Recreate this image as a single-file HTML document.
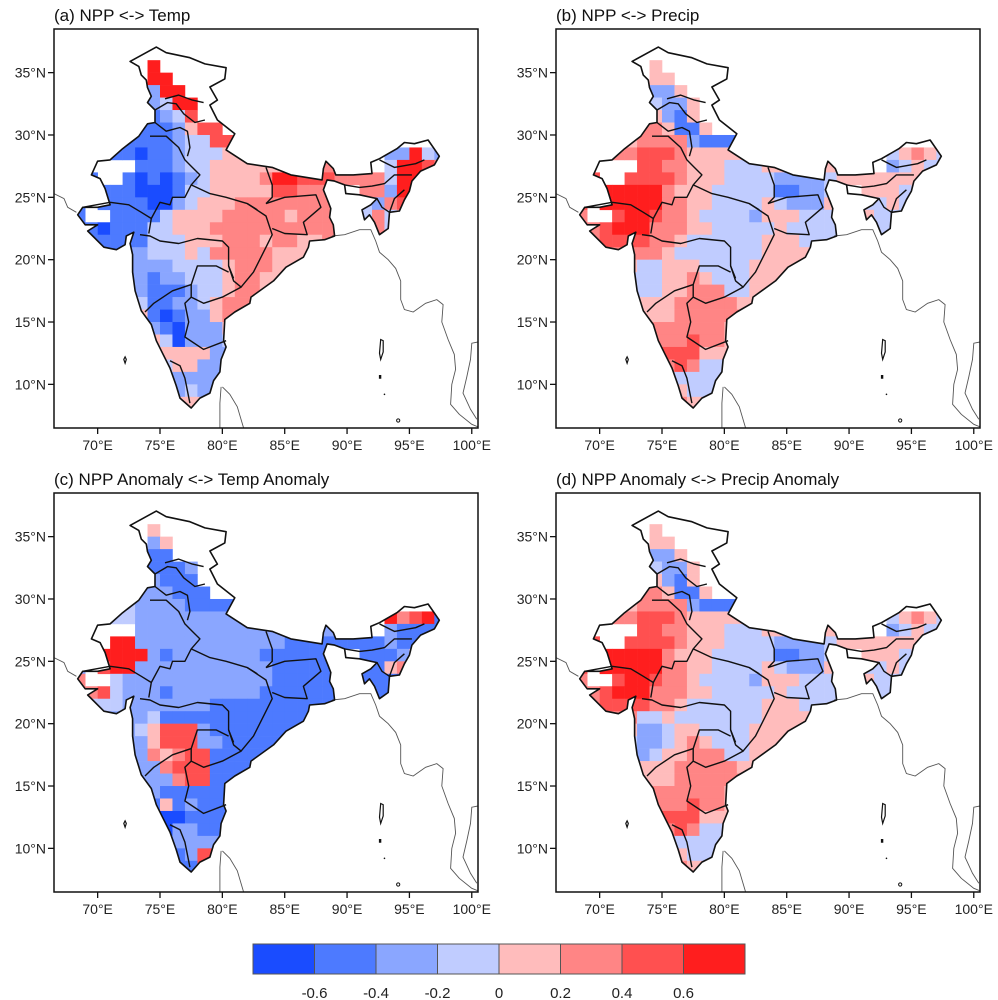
<!DOCTYPE html>
<html><head><meta charset="utf-8">
<style>
html,body{margin:0;padding:0;background:#fff;}
svg{display:block;font-family:"Liberation Sans",sans-serif;}
</style></head>
<body>
<svg id="fig" width="998" height="1000" viewBox="0 0 998 1000" xmlns="http://www.w3.org/2000/svg"></svg>
<script>
// ---- data ----
const classColors = ["#1a4cff","#4d7aff","#8aa6ff","#c0ccff","#ffbcbc","#ff8585","#ff5050","#ff1e1e"];
const colorbarLabels = ["-0.6","-0.4","-0.2","0","0.2","0.4","0.6"];
const lonTicks = [70,75,80,85,90,95,100];
const latTicks = [35,30,25,20,15,10];
const panelTitles = ["(a) NPP <-> Temp","(b) NPP <-> Precip","(c) NPP Anomaly <-> Temp Anomaly","(d) NPP Anomaly <-> Precip Anomaly"];
const gridLon0 = 68; const gridLatTop = 37;
// rows: lat bands from 37 downward (1 deg each); groups of lon 68-72|73-77|78-82|83-87|88-92|93-97
const gridA = [
"..... ..... ..... ..... ..... .....",
"..... .7... ..... ..... ..... .....",
"..... .77.. ..... ..... ..... .....",
"..... .277. ..... ..... ..... .....",
"..... .2377 ..... ..... ..... .....",
"..... 11236 ..... ..... ..... .....",
"..... 11124 66... ..... ..... .....",
"...11 11123 3665. ..... ..... .....",
"...11 01123 33444 4.... ..... 22732",
"1.... 11123 34444 44455 5.3.. 37765",
"11..1 01012 34444 57766 65555 37766",
"11111 00013 34444 46655 5..55 27711",
"1.111 10023 44455 55555 5..32 5611.",
"1..11 11344 44555 55455 5..35 34...",
"11011 13344 45555 55555 55.45 3....",
"11111 13334 44555 45544 5.... .....",
"11112 23334 35555 54444 ..... .....",
"11112 22233 33455 54444 ..... .....",
"22222 21223 33455 44444 ..... .....",
"33332 21112 33455 4.... ..... .....",
"33333 31122 34555 ..... ..... .....",
"33333 41012 24554 ..... ..... .....",
"44444 42102 22454 ..... ..... .....",
"44444 44302 22344 ..... ..... .....",
"44444 44444 42222 ..... ..... .....",
"44444 43344 22222 ..... ..... .....",
"44444 44322 22222 ..... ..... .....",
"44444 44423 22222 ..... ..... .....",
"44444 44444 44444 ..... ..... ....."];
const gridB = [
"..... ..... ..... ..... ..... .....",
"..... .4... ..... ..... ..... .....",
"..... .44.. ..... ..... ..... .....",
"..... .224. ..... ..... ..... .....",
"..... .3224 ..... ..... ..... .....",
"..... 54214 ..... ..... ..... .....",
"..... 55411 4.... ..... ..... .....",
"...44 55552 1114. ..... ..... .....",
"..555 66654 44444 4.... ..... 34543",
"5.... 66554 44333 44333 4.3.. 23433",
"56..6 66654 44333 32222 34444 44424",
"67777 77544 43333 31122 3..44 43434",
"6.777 77554 43333 43222 4..33 4333.",
"5..67 76554 33332 44433 3..43 33...",
"55677 75554 43333 34333 33.33 3....",
"55666 65543 33333 44433 3.... .....",
"44555 55433 33333 44444 ..... .....",
"44444 33444 33334 44444 ..... .....",
"33333 33445 43334 44444 ..... .....",
"33333 33445 55334 4.... ..... .....",
"44444 44455 55544 ..... ..... .....",
"44444 44455 55552 ..... ..... .....",
"44444 45555 55443 ..... ..... .....",
"55555 55556 55444 ..... ..... .....",
"55555 55666 44444 ..... ..... .....",
"55555 55565 33333 ..... ..... .....",
"55555 54433 33333 ..... ..... .....",
"55555 55443 33333 ..... ..... .....",
"55555 55554 44444 ..... ..... ....."];
const gridC = [
"..... ..... ..... ..... ..... .....",
"..... .4... ..... ..... ..... .....",
"..... .24.. ..... ..... ..... .....",
"..... .11.. ..... ..... ..... .....",
"..... .1112 ..... ..... ..... .....",
"..... 22111 ..... ..... ..... .....",
"..... 22211 1.... ..... ..... .....",
"...33 22221 1112. ..... ..... .....",
"..333 22222 22222 2.... ..... 75671",
"..... 22222 22222 22222 2.6.. 21111",
"3..77 22222 22222 22111 11111 21111",
"3.777 72122 22222 11111 1..11 12411",
"2.677 22222 22222 21111 1..11 4511.",
"5..32 22222 22222 21111 1..11 11...",
"55632 22122 22222 11111 11.11 1....",
"23332 22222 21111 11111 1.... .....",
"22222 23111 11111 11111 ..... .....",
"22222 34666 21111 11111 ..... .....",
"22222 24666 22111 11111 ..... .....",
"11111 25456 61111 1.... ..... .....",
"11111 22566 61111 ..... ..... .....",
"11111 22256 61111 ..... ..... .....",
"11111 22111 11111 ..... ..... .....",
"11111 11412 11111 ..... ..... .....",
"11111 10001 11111 ..... ..... .....",
"11111 10022 11111 ..... ..... .....",
"11111 12222 22222 ..... ..... .....",
"11111 11112 66222 ..... ..... .....",
"11111 11111 61111 ..... ..... ....."];
const gridD = [
"..... ..... ..... ..... ..... .....",
"..... .4... ..... ..... ..... .....",
"..... .44.. ..... ..... ..... .....",
"..... .224. ..... ..... ..... .....",
"..... .3224 ..... ..... ..... .....",
"..... 54214 ..... ..... ..... .....",
"..... 55411 4.... ..... ..... .....",
"...44 55552 1114. ..... ..... .....",
"..555 66654 44444 4.... ..... 34543",
"5.... 66554 44333 44333 4.3.. 23433",
"56..6 66654 44333 32222 34444 44424",
"67777 77544 43333 31122 3..44 43434",
"6.777 77554 43333 43222 4..33 4333.",
"5..67 76554 33332 44433 3..43 33...",
"55677 75554 43333 34333 33.33 3....",
"55666 65543 33333 44433 3.... .....",
"44555 33433 33333 44444 ..... .....",
"44444 22344 33334 44444 ..... .....",
"33333 22345 43334 44444 ..... .....",
"33333 23445 55334 4.... ..... .....",
"44444 44455 55544 ..... ..... .....",
"44444 44455 55552 ..... ..... .....",
"44444 45555 55443 ..... ..... .....",
"55555 55556 55444 ..... ..... .....",
"55555 55666 44444 ..... ..... .....",
"55555 55565 33333 ..... ..... .....",
"55555 54433 33333 ..... ..... .....",
"55555 55443 33333 ..... ..... .....",
"55555 55554 44444 ..... ..... ....."];
const grids = [gridA, gridB, gridC, gridD];

// ---- geometry ----
const NS = "http://www.w3.org/2000/svg";
const svg = document.getElementById("fig");
const panelOrigins = [[0,0],[502,0],[0,464],[502,464]];
const FX0 = 54, FY0 = 29, FW = 424, FH = 399;
const LON_MIN = 66.5, LON_MAX = 100.5, LAT_MIN = 6.5, LAT_MAX = 38.5;
function xScale(lon){ return FX0 + (lon - LON_MIN) / (LON_MAX - LON_MIN) * FW; }
function yScale(lat){ return FY0 + (LAT_MAX - lat) / (LAT_MAX - LAT_MIN) * FH; }
function el(tag, attrs, parent){
  const e = document.createElementNS(NS, tag);
  for (const k in attrs) e.setAttribute(k, attrs[k]);
  if (parent) parent.appendChild(e);
  return e;
}
function pts(list){ return list.map(p => xScale(p[0]).toFixed(1) + "," + yScale(p[1]).toFixed(1)).join(" "); }

const india = [[72.6,35.9],[74.7,37.05],[75.5,36.6],[77.4,36.2],[78.6,35.7],[80.3,35.4],[80.2,34.5],[79,33.85],[79.6,32.8],[79,32.4],[79.6,31.2],[81,30.1],
[80.3,28.8],[82,27.7],[84,27.4],[85.5,26.8],[88,26.4],[88.1,27.3],[88.3,27.9],[88.9,27.3],[89.1,26.8],[90.5,26.8],[92,26.9],[91.9,27.8],[92.6,28.1],[94,28.9],[94.6,29.4],[95.4,29.3],[96.5,29.6],[97.4,28.3],[97,27.6],[95.9,27.1],[95.2,26.3],[95,25.5],[94.6,24.8],[94.2,23.9],[93.4,23.8],[93.3,22.5],[92.6,22.0],[92.2,23.0],[91.8,23.6],[91.4,23.2],[91.2,24.0],[91.9,24.4],[92.4,24.9],[91,25.2],[89.9,25.3],[89.8,26.0],[89.0,26.3],[88.4,26.4],[88.1,25.6],[88.5,24.6],[88.7,24.1],[88.6,23.4],[88.9,22.8],[89.0,21.9],[88.2,21.6],[87.0,21.5],[86.9,21.0],[86.5,20.2],[85.1,19.4],[84.1,18.3],[82.3,17.0],[82.2,16.5],[81.0,15.8],[80.2,15.2],[80.1,13.5],[80.3,13.0],[79.9,12.0],[79.8,11.0],[79.3,10.3],[79.0,9.3],[78.2,8.9],[77.5,8.1],[76.6,8.9],[76.3,9.9],[75.8,11.3],[75.2,12.5],[74.7,13.5],[74.3,14.8],[73.5,15.9],[73.0,17.5],[72.8,19.0],[72.8,20.4],[72.6,21.3],[72.9,22.2],[72.3,21.9],[72.2,21.2],[71.5,20.8],[70.5,21.0],[69.2,22.3],[70.0,22.8],[69.0,22.8],[68.4,23.6],[68.8,24.2],[70.0,24.2],[71.0,24.4],[70.6,25.7],[70.2,26.5],[69.5,26.8],[70.0,27.9],[71.0,28.0],[72.0,28.9],[73.3,29.9],[74.0,30.9],[74.6,31.0],[74.6,32.0],[74.0,32.6],[74.3,33.1],[74.0,33.8],[73.9,34.4],[73.5,34.8],[73.3,35.5]];
const stateLines = [
[[68.8,24.2],[71,24.6],[72.5,24.4],[73.5,23.8],[74.3,23.3],[74.1,22.1]],
[[74.3,23.3],[75,24.6],[75.8,24.4],[76,25],[77,25],[77.5,26],[78.2,26.8],[77.5,27.5],[77,28],[76.5,29],[75.5,29.9],[74.2,29.9]],
[[74.6,31.0],[75.5,30.3],[76.6,30.6],[77.2,30.3],[77.4,29.0],[77.2,28.3]],
[[74.6,32.0],[75.6,32.6],[76.3,32.5],[76.9,31.7],[77.8,31.0],[78.6,31.2]],
[[75.4,32.9],[76.5,33.2],[77.6,32.8],[78.5,32.6]],
[[73.4,22.0],[74.2,21.9],[75,21.5],[76.5,21.3],[78,21.7],[80,21.5],[80.5,21],[80.5,19.5],[80.9,18.5]],
[[77.5,26],[79,25.3],[80.3,25],[82,24.5],[82.8,24]],
[[83.5,27.4],[84,26],[84,25],[83.5,24.5]],
[[82,24.5],[83.5,23.5],[84,22],[83.5,21],[82.5,19],[81.5,17.8],[80.9,18.3],[80.5,19.5]],
[[83.5,24.5],[85,25],[87.5,25.2],[87.9,24.2],[86.5,23],[86.8,22],[85,22.1],[84,22.5]],
[[73.8,15.8],[74.5,16.5],[76,17.5],[77.5,18],[78,19.5],[79.5,19.5],[80.5,19]],
[[77.5,18],[77.5,17],[78.5,16.5],[80,17],[81.5,17.8]],
[[77.5,17],[77,16.5],[77.3,15],[77,13.8],[78.5,12.8],[80.3,13.5]],
[[75.8,11.9],[76.6,11.5],[77,10.5],[77.2,9.5],[77.4,8.5]],
[[89.8,26.0],[91,25.8],[92,25.9],[93,26.1],[93.8,26.8],[95.2,26.8]],
[[92.6,28.0],[93.8,27.4],[95.5,27.7],[96.2,28.0]],
[[93.4,23.8],[93.8,24.9],[94.6,25.6]],
[[92.4,24.9],[92.8,24.2],[93.4,23.8]]
];
const coastLines = [
[[66.5,25.3],[67.3,24.9],[67.6,24.2],[68.3,23.8]],
[[88.8,21.9],[89.8,22.0],[91.0,22.4],[91.9,22.4],[92.3,21.5],[92.6,20.6],[93.3,20.0],[93.9,19.3],[94.3,18.3],[94.3,16.8],[94.6,16.0],[95.3,15.8],[96.3,16.5],[97.2,16.8],[97.7,16.4],[97.6,15.0],[98.1,13.6],[98.6,12.4],[98.7,11.2],[98.4,10.0],[98.3,8.4],[99.0,7.6],[100.0,6.8],[100.5,6.6]],
[[100.5,13.4],[100.0,13.3],[99.9,12.0],[99.6,10.6],[99.3,9.3],[99.9,8.0],[100.4,7.2]],
[[79.9,9.8],[79.8,8.5],[79.8,6.5]],
[[80.0,9.8],[80.6,9.2],[81.2,8.2],[81.7,6.5]]
];
const islands = [[[92.7,13.6],[92.9,13.5],[92.9,12.6],[92.7,12.0],[92.6,12.5]],[[92.6,10.7],[92.7,10.7],[92.7,10.5],[92.6,10.5]],[[72.2,12.2],[72.3,12.0],[72.2,11.7],[72.1,12.0]]];

svg.appendChild(el("rect",{x:0,y:0,width:998,height:1000,fill:"#fff"}));
const defs = el("defs",{},svg);
const cp = el("clipPath",{id:"indiaClip"},defs);
el("polygon",{points:pts(india)},cp);
const fc = el("clipPath",{id:"frameClip"},defs);
el("rect",{x:FX0,y:FY0,width:FW,height:FH},fc);

const panelNames = ["panel-a-temp","panel-b-precip","panel-c-temp-anomaly","panel-d-precip-anomaly"];
for (let p = 0; p < 4; p++){
  const [ox, oy] = panelOrigins[p];
  const g = el("g",{transform:`translate(${ox},${oy})`},svg);
  
  
  const title = el("text",{x:FX0,y:21,"font-size":"17","fill":"#111"},g);
  title.textContent = panelTitles[p];
  
  
  const cells = el("g",{"clip-path":"url(#indiaClip)"},g);
  
  
  const grid = grids[p];
  for (let r = 0; r < grid.length; r++){
    const row = grid[r].replace(/ /g,"");
    const latTop = gridLatTop - r;
    for (let c = 0; c < Math.min(row.length, 30); c++){
      const ch = row[c];
      if (ch < "0" || ch > "7") continue;
      const lon = gridLon0 + c;
      const x1 = xScale(lon), x2 = xScale(lon+1), y1 = yScale(latTop), y2 = yScale(latTop-1);
      const cell = el("rect",{x:x1.toFixed(2),y:y1.toFixed(2),width:(x2-x1+0.3).toFixed(2),height:(y2-y1+0.3).toFixed(2),fill:classColors[+ch]},cells);
      
      
    }
  }
  const lines = el("g",{"clip-path":"url(#frameClip)"},g);
  coastLines.forEach(l => el("polyline",{points:pts(l),fill:"none",stroke:"#555","stroke-width":"0.9"},lines));
  stateLines.forEach(l => el("polyline",{points:pts(l),fill:"none",stroke:"#111","stroke-width":"1.4","stroke-linejoin":"round"},lines));
  el("polygon",{points:pts(india),fill:"none",stroke:"#111","stroke-width":"1.6","stroke-linejoin":"round"},lines);
  islands.forEach(l => el("polygon",{points:pts(l),fill:"none",stroke:"#111","stroke-width":"1.2"},lines));
  el("circle",{cx:xScale(94.1),cy:yScale(7.1),r:1.6,fill:"none",stroke:"#111","stroke-width":"1"},lines);
  el("circle",{cx:xScale(93.0),cy:yScale(9.2),r:0.8,fill:"#111"},lines);
  const frame = el("rect",{x:FX0,y:FY0,width:FW,height:FH,fill:"none",stroke:"#111","stroke-width":"1.5"},g);
  
  
  lonTicks.forEach(t => {
    const x = xScale(t);
    el("line",{x1:x,y1:FY0+FH,x2:x,y2:FY0+FH+6,stroke:"#111","stroke-width":"1.3"},g);
    const tx = el("text",{x:x,y:FY0+FH+22,"font-size":"14","text-anchor":"middle",fill:"#222"},g);
    tx.textContent = t + "°E";
    
    
  });
  latTicks.forEach(t => {
    const y = yScale(t);
    el("line",{x1:FX0-6,y1:y,x2:FX0,y2:y,stroke:"#111","stroke-width":"1.3"},g);
    const ty = el("text",{x:FX0-8,y:y+5,"font-size":"14","text-anchor":"end",fill:"#222"},g);
    ty.textContent = t + "°N";
    
    
  });
}
const cb = el("g",{},svg);


const CBX = 253, CBY = 944, CBW = 492, CBH = 30;
const bw = CBW / classColors.length;
classColors.forEach((c,i) => {
  const box = el("rect",{x:CBX+i*bw,y:CBY,width:bw,height:CBH,fill:c,stroke:"#555","stroke-width":"1"},cb);
  
  
});
colorbarLabels.forEach((lab,i) => {
  const t = el("text",{x:CBX+(i+1)*bw,y:998,"font-size":"15","text-anchor":"middle",fill:"#222"},cb);
  t.textContent = lab;
  
  
});
</script>
</body></html>
